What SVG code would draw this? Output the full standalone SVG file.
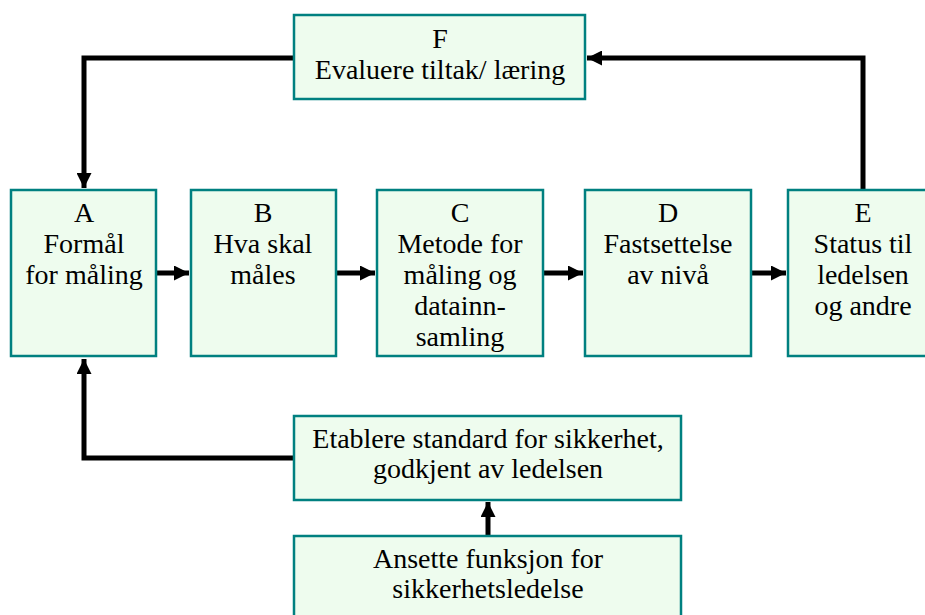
<svg xmlns="http://www.w3.org/2000/svg" width="925" height="615" viewBox="0 0 925 615">
<defs>
<style>
.box{fill:#EEFCEE;stroke:#008080;stroke-width:2.5}
.t{font-family:'Liberation Serif','Times New Roman',serif;font-size:28px;fill:#000;text-anchor:middle}
.c{fill:none;stroke:#000;stroke-width:5}
</style>
<marker id="ah" viewBox="0 0 10 10" refX="10" refY="5" markerWidth="3" markerHeight="3" orient="auto" markerUnits="strokeWidth">
<path d="M0,0 L10,5 L0,10 z" fill="#000"/>
</marker>
</defs>
<rect width="925" height="615" fill="#fff"/>
<g id="connectors">
<polyline class="c" points="294,58 84,58 84,188" marker-end="url(#ah)"/>
<polyline class="c" points="863,190 863,58 587,58" marker-end="url(#ah)"/>
<polyline class="c" points="294,458 84,458 84,359" marker-end="url(#ah)"/>
<line class="c" x1="488" y1="536" x2="488" y2="502" marker-end="url(#ah)"/>
<line class="c" x1="156" y1="273" x2="189" y2="273" marker-end="url(#ah)"/>
<line class="c" x1="336" y1="273" x2="375" y2="273" marker-end="url(#ah)"/>
<line class="c" x1="543" y1="273" x2="583" y2="273" marker-end="url(#ah)"/>
<line class="c" x1="751" y1="273" x2="786" y2="273" marker-end="url(#ah)"/>
</g>
<g id="F">
<rect class="box" x="294" y="15" width="291" height="84"/>
<text class="t" x="440" y="48">F</text>
<text class="t" x="440" y="79">Evaluere tiltak/ læring</text>
</g>
<g id="A">
<rect class="box" x="11" y="190" width="145" height="166"/>
<text class="t" x="84" y="222">A</text>
<text class="t" x="84" y="253">Formål</text>
<text class="t" x="84" y="284">for måling</text>
</g>
<g id="B">
<rect class="box" x="191" y="190" width="145" height="166"/>
<text class="t" x="263" y="222">B</text>
<text class="t" x="263" y="253">Hva skal</text>
<text class="t" x="263" y="284">måles</text>
</g>
<g id="C">
<rect class="box" x="377" y="190" width="166" height="166"/>
<text class="t" x="460" y="222">C</text>
<text class="t" x="460" y="253">Metode for</text>
<text class="t" x="460" y="284">måling og</text>
<text class="t" x="460" y="315">datainn-</text>
<text class="t" x="460" y="346">samling</text>
</g>
<g id="D">
<rect class="box" x="585" y="190" width="166" height="166"/>
<text class="t" x="668" y="222">D</text>
<text class="t" x="668" y="253">Fastsettelse</text>
<text class="t" x="668" y="284">av nivå</text>
</g>
<g id="E">
<rect class="box" x="788" y="190" width="150" height="166"/>
<text class="t" x="863" y="222">E</text>
<text class="t" x="863" y="253">Status til</text>
<text class="t" x="863" y="284">ledelsen</text>
<text class="t" x="863" y="315">og andre</text>
</g>
<g id="G">
<rect class="box" x="294" y="416" width="387" height="84"/>
<text class="t" x="488" y="448">Etablere standard for sikkerhet,</text>
<text class="t" x="488" y="478">godkjent av ledelsen</text>
</g>
<g id="H">
<rect class="box" x="294" y="536" width="387" height="90"/>
<text class="t" x="488" y="568">Ansette funksjon for</text>
<text class="t" x="488" y="598">sikkerhetsledelse</text>
</g>
</svg>
